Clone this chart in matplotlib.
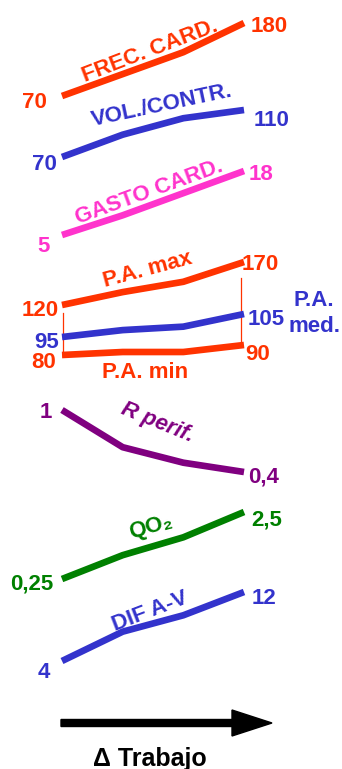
import matplotlib
matplotlib.use('Agg')
import matplotlib.pyplot as plt
from matplotlib.patches import FancyArrow

W, H = 342, 769

# work stages (rest -> maximal effort)
stages = [0, 1, 2, 3]

# cardiovascular responses along the stages
frec_card = [70, 103, 136, 180]
vol_contr = [70, 89, 103, 110]
gasto_card = [5, 9, 13.5, 18]
pa_max = [120, 135, 147, 170]
pa_med = [95, 98, 99.5, 105]
pa_min = [80, 83, 83, 90]
r_perif = [1, 0.64, 0.49, 0.4]
qo2 = [0.25, 1.05, 1.65, 2.5]
dif_av = [4, 7.4, 9.3, 12]

RED = '#FF3300'
BLUE = '#3333CC'
PINK = '#FF33CC'
PURPLE = '#800080'
GREEN = '#008000'

plt.rcParams['font.family'] = ['Liberation Sans', 'DejaVu Sans']
plt.rcParams['font.weight'] = 'bold'

fig = plt.figure(figsize=(W / 100, H / 100), dpi=100)
bg = fig.add_axes([0, 0, 1, 1])
bg.set_xlim(0, W)
bg.set_ylim(H, 0)
bg.axis('off')

X0, X1 = 62, 244
NUM_SIZE = 16
DY = -2  # visual centring of digits


def fmt(v):
    return f'{v:g}'.replace('.', ',')


def series(values, y_first, y_last, color, left_off, right_off):
    v0, v1 = values[0], values[-1]
    if v0 <= v1:
        lo, hi, ylo, yhi = v0, v1, y_first, y_last
    else:
        lo, hi, ylo, yhi = v1, v0, y_last, y_first
    ax = fig.add_axes([X0 / W, 1 - ylo / H, (X1 - X0) / W, (ylo - yhi) / H])
    ax.set_xlim(stages[0], stages[-1])
    ax.set_ylim(lo, hi)
    ax.axis('off')
    ax.plot(stages, values, color=color, lw=4.8, solid_capstyle='butt',
            solid_joinstyle='round', clip_on=False)
    for x, v, off in ((stages[0], v0, left_off), (stages[-1], v1, right_off)):
        ax.annotate(fmt(v), xy=(x, v), xytext=(off[0], off[1] + DY),
                    textcoords='offset pixels', ha='center', va='center',
                    color=color, fontsize=NUM_SIZE, fontweight='bold',
                    annotation_clip=False)
    return ax


series(frec_card, 96, 23, RED, (-28, -4), (25, -2))
series(vol_contr, 157, 110, BLUE, (-18, -5), (28, -8))
series(gasto_card, 235, 171, PINK, (-18, -9), (17, -1))
series(pa_max, 305, 262, RED, (-22, -3), (16, -1))
series(pa_med, 337, 314, BLUE, (-15, -3), (22, -4))
series(pa_min, 355, 345, RED, (-18, -5), (14, -7))
series(r_perif, 410, 472, PURPLE, (-16, 0), (20, -3))
series(qo2, 579, 512, GREEN, (-30, -3), (23, -6))
series(dif_av, 661, 592, BLUE, (-18, -9), (20, -5))

# thin sides of the blood-pressure band
bg.plot([63, 63], [313, 356], color=RED, lw=0.9)
bg.plot([241, 241], [278, 345], color=RED, lw=0.9)

LBL = 16
names = [
    ('FREC. CARD.', 150, 51, 21, RED, 'normal'),
    ('VOL./CONTR.', 162, 106, 12, BLUE, 'normal'),
    ('GASTO CARD.', 149, 192, 20, PINK, 'normal'),
    ('P.A. max', 148, 270, 15, RED, 'normal'),
    ('P.A. min', 145, 373, 0, RED, 'normal'),
    ('R perif.', 157, 423, -22, PURPLE, 'italic'),
    ('QO₂', 151, 527, 15, GREEN, 'normal'),
    ('DIF A-V', 150, 612, 21, BLUE, 'normal'),
]
for txt, x, y, rot, col, style in names:
    bg.text(x, y, txt, rotation=rot, rotation_mode='anchor', ha='center',
            va='center', color=col, fontsize=LBL, fontweight='bold',
            fontstyle=style)

bg.text(314, 301, 'P.A.', ha='center', va='center', color=BLUE,
        fontsize=LBL, fontweight='bold')
bg.text(314, 327, 'med.', ha='center', va='center', color=BLUE,
        fontsize=LBL, fontweight='bold')

# work axis arrow
bg.add_patch(FancyArrow(61, 723, 211, 0, width=7, head_width=26,
                        head_length=40, length_includes_head=True,
                        color='black'))
bg.text(150, 766, 'Δ Trabajo', ha='center', va='baseline', color='black',
        fontsize=18, fontweight='bold')

fig.savefig('out.png', dpi=100)
